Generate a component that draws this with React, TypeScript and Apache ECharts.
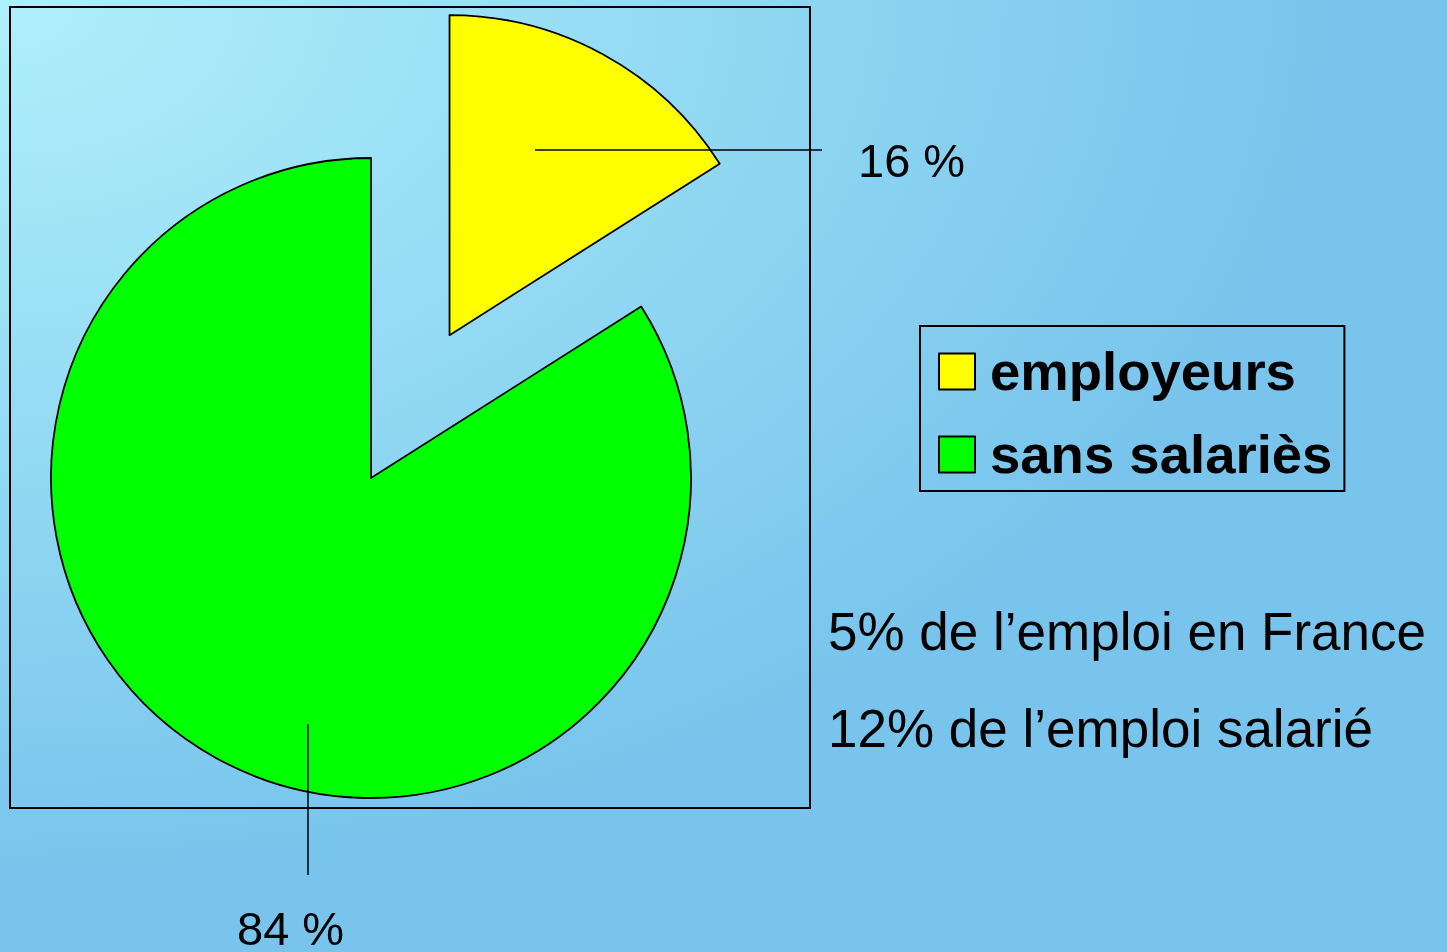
import React, { useEffect, useRef } from 'react';
import * as echarts from 'echarts';

const categories = ['employeurs', 'sans salariès'];
const shares = [16, 84];
const sliceColors = ['#ffff00', '#00ff00'];
const notes = ['5% de l’emploi en France', '12% de l’emploi salarié'];

const FONT = '"Liberation Sans", Arial, Helvetica, sans-serif';

export default function App() {
  const ref = useRef<HTMLDivElement>(null);

  useEffect(() => {
    if (!ref.current) return;
    const chart = echarts.init(ref.current, null, { renderer: 'svg' });

    const center = [371, 478];
    const explode = 163;
    const total = shares.reduce((a, b) => a + b, 0);
    const midDeg = 90 - (shares[0] / total) * 180;
    const midRad = (midDeg * Math.PI) / 180;
    const explodedCenter = [
      center[0] + explode * Math.cos(midRad),
      center[1] - explode * Math.sin(midRad),
    ];

    // label anchor positions and leader lines (PowerPoint-style, starting inside the slice)
    const labelPlaces = [
      { x: 858, y: 160, line: [[535, 150], [822, 150]] },
      { x: 237, y: 928, line: [[308, 724], [308, 875]] },
    ];

    const makeSeries = (idx: number, c: number[]) => ({
      type: 'pie',
      z: 2,
      center: c,
      radius: 320,
      startAngle: 90,
      clockwise: true,
      avoidLabelOverlap: false,
      emphasis: { disabled: true },
      selectedMode: false,
      label: {
        show: true,
        position: 'outside',
        formatter: '{c} %',
        fontSize: 47,
        fontFamily: FONT,
        color: '#000',
      },
      labelLine: { show: false },
      labelLayout: (params: any) => {
        if (params.dataIndex !== idx) return {};
        const p = labelPlaces[idx];
        return { x: p.x, y: p.y, align: 'left', verticalAlign: 'middle' };
      },
      data: categories.map((name, i) =>
        i === idx
          ? {
              name,
              value: shares[i],
              itemStyle: { color: sliceColors[i], borderColor: '#000', borderWidth: 1.8 },
            }
          : {
              name: '_gap' + idx,
              value: shares[i],
              itemStyle: { color: 'rgba(0,0,0,0)', borderWidth: 0 },
              label: { show: false },
              silent: true,
            }
      ),
    });

    chart.setOption({
      animation: false,
      graphic: [
        {
          type: 'rect',
          z: -10,
          silent: true,
          shape: { x: 0, y: 0, width: 1447, height: 952 },
          style: {
            fill: new echarts.graphic.RadialGradient(0, 0, 0.92, [
              { offset: 0, color: '#b0f0fb' },
              { offset: 1, color: '#78c4ec' },
            ]),
          },
        },
        {
          type: 'rect',
          z: -5,
          silent: true,
          shape: { x: 10, y: 7, width: 800, height: 801 },
          style: { fill: 'none', stroke: '#000', lineWidth: 2 },
        },
        ...labelPlaces.map((p) => ({
          type: 'polyline',
          z: 50,
          silent: true,
          shape: { points: p.line },
          style: { stroke: '#000', lineWidth: 1.5, fill: 'none' },
        })),
        ...notes.map((t, i) => ({
          type: 'text',
          x: 828,
          y: 631 + i * 97,
          silent: true,
          style: {
            text: t,
            fontSize: 53,
            fontFamily: FONT,
            fill: '#000',
            align: 'left',
            verticalAlign: 'middle',
          },
        })),
      ],
      legend: {
        orient: 'vertical',
        left: 920,
        top: 326,
        padding: [18, 12, 9, 18],
        itemGap: 28,
        itemWidth: 36,
        itemHeight: 36,
        icon: 'rect',
        borderColor: '#000',
        borderWidth: 2,
        selectedMode: false,
        data: categories,
        textStyle: {
          fontSize: 54.5,
          fontWeight: 'bold',
          fontFamily: FONT,
          color: '#000',
          padding: [0, 0, 0, 10],
        },
      },
      series: [makeSeries(1, center), makeSeries(0, explodedCenter)],
    });

    return () => chart.dispose();
  }, []);

  return (
    <div
      ref={ref}
      style={{ position: 'fixed', left: 0, top: 0, width: 1447, height: 952 }}
    />
  );
}
